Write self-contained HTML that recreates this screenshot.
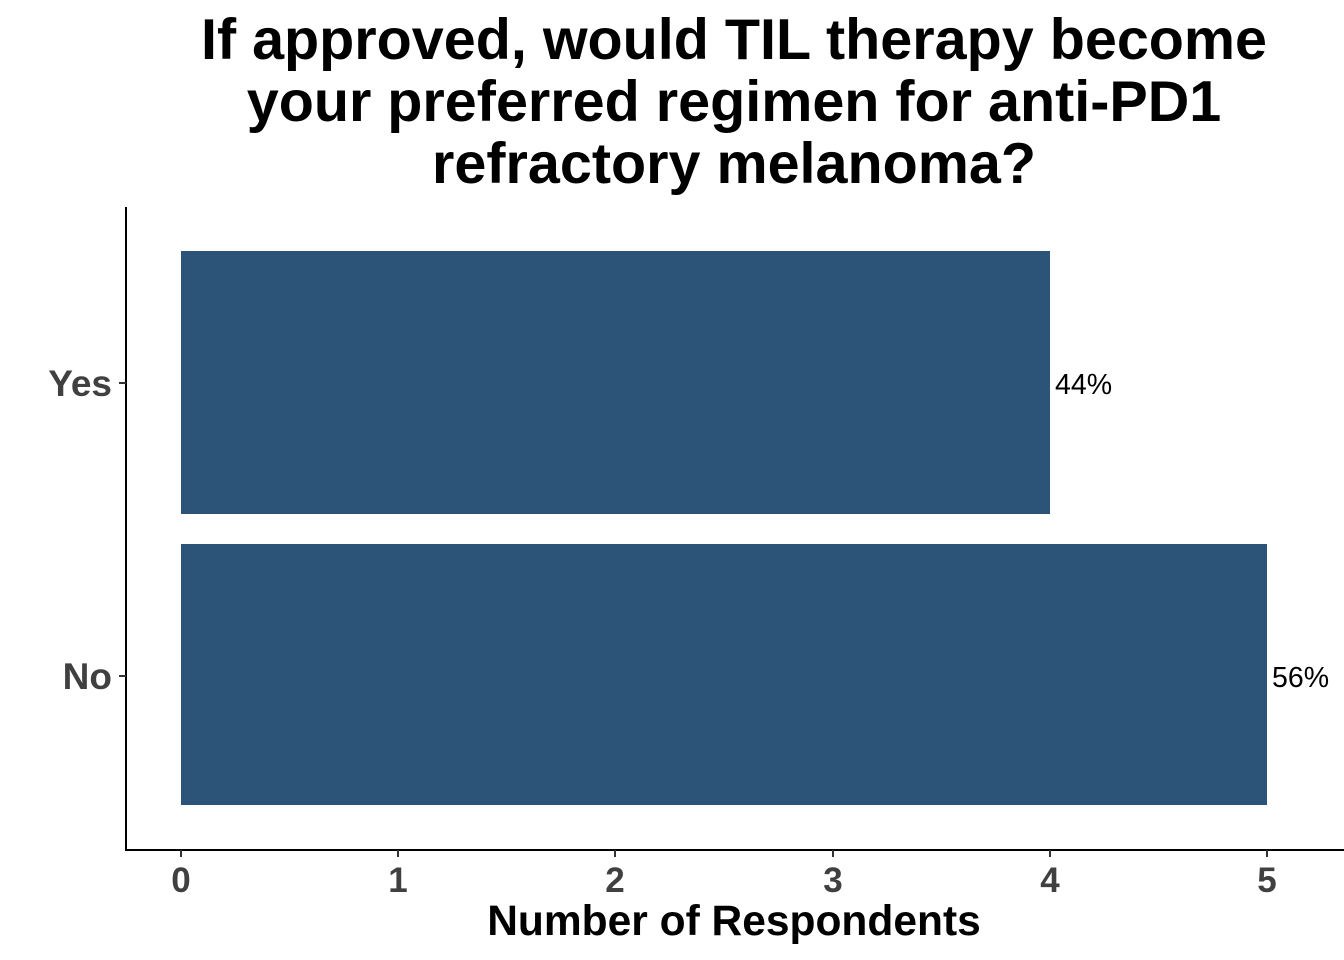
<!DOCTYPE html>
<html><head><meta charset="utf-8"><style>
html,body{margin:0;padding:0;background:#fff;}
svg{display:block;font-family:"Liberation Sans",Arial,sans-serif;}
</style></head><body>
<svg width="1344" height="960" viewBox="0 0 1344 960">
<rect width="1344" height="960" fill="#fff"/>
<g font-weight="bold" font-size="57.5" fill="#000" text-anchor="middle">
<text x="734" y="59">If approved, would TIL therapy become</text>
<text x="734" y="121">your preferred regimen for anti-PD1</text>
<text x="734" y="183">refractory melanoma?</text>
</g>
<rect x="181" y="251" width="869" height="263" fill="#2C5378"/>
<rect x="181" y="544" width="1086" height="261" fill="#2C5378"/>
<g font-size="28.5" fill="#000">
<text x="1055" y="394">44%</text>
<text x="1272" y="687">56%</text>
</g>
<g stroke="#000" stroke-width="2" fill="none">
<line x1="126" y1="207" x2="126" y2="851"/>
<line x1="125" y1="850" x2="1344" y2="850"/>
</g>
<g stroke="#333" stroke-width="2">
<line x1="119" y1="383" x2="126" y2="383"/>
<line x1="119" y1="676" x2="126" y2="676"/>
<line x1="181" y1="850" x2="181" y2="857"/>
<line x1="398" y1="850" x2="398" y2="857"/>
<line x1="615" y1="850" x2="615" y2="857"/>
<line x1="833" y1="850" x2="833" y2="857"/>
<line x1="1050" y1="850" x2="1050" y2="857"/>
<line x1="1267" y1="850" x2="1267" y2="857"/>
</g>
<g font-weight="bold" font-size="37" fill="#404040" text-anchor="end">
<text x="112" y="396">Yes</text>
<text x="112" y="689">No</text>
</g>
<g font-weight="bold" font-size="35" fill="#404040" text-anchor="middle">
<text x="181" y="892">0</text>
<text x="398" y="892">1</text>
<text x="615" y="892">2</text>
<text x="833" y="892">3</text>
<text x="1050" y="892">4</text>
<text x="1267" y="892">5</text>
</g>
<text x="734" y="935" font-weight="bold" font-size="42.5" fill="#000" text-anchor="middle">Number of Respondents</text>
</svg>
</body></html>
